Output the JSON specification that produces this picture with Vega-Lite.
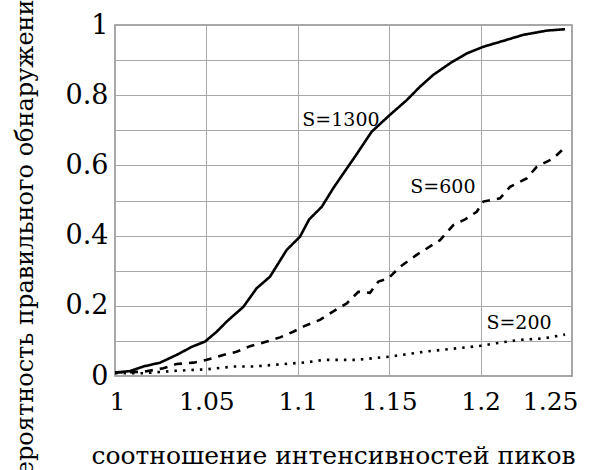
{
  "$schema": "https://vega.github.io/schema/vega-lite/v6.json",
  "width": 457,
  "height": 351,
  "autosize": {"type": "none"},
  "padding": {"left": 115, "top": 25, "right": 22, "bottom": 94},
  "background": "white",
  "config": {
    "font": "DejaVu Serif",
    "view": {"stroke": "#8a8a8a", "strokeWidth": 1.5},
    "axis": {
      "labelFont": "DejaVu Serif",
      "titleFont": "DejaVu Serif",
      "labelColor": "black",
      "titleColor": "black",
      "titleFontWeight": "normal",
      "gridColor": "#a8a8a8",
      "gridWidth": 1,
      "domain": false,
      "ticks": false,
      "labelOverlap": false
    },
    "text": {"font": "DejaVu Serif"}
  },
  "datasets": {
    "curves": [
      {"x": 1.0, "p": 0.01, "S": "S=1300"},
      {"x": 1.0082, "p": 0.014, "S": "S=1300"},
      {"x": 1.0155, "p": 0.027, "S": "S=1300"},
      {"x": 1.0246, "p": 0.038, "S": "S=1300"},
      {"x": 1.0337, "p": 0.06, "S": "S=1300"},
      {"x": 1.042, "p": 0.083, "S": "S=1300"},
      {"x": 1.0492, "p": 0.098, "S": "S=1300"},
      {"x": 1.0556, "p": 0.126, "S": "S=1300"},
      {"x": 1.0611, "p": 0.155, "S": "S=1300"},
      {"x": 1.0702, "p": 0.197, "S": "S=1300"},
      {"x": 1.0775, "p": 0.25, "S": "S=1300"},
      {"x": 1.0848, "p": 0.283, "S": "S=1300"},
      {"x": 1.0939, "p": 0.359, "S": "S=1300"},
      {"x": 1.1012, "p": 0.397, "S": "S=1300"},
      {"x": 1.1062, "p": 0.446, "S": "S=1300"},
      {"x": 1.1131, "p": 0.482, "S": "S=1300"},
      {"x": 1.1194, "p": 0.535, "S": "S=1300"},
      {"x": 1.1249, "p": 0.577, "S": "S=1300"},
      {"x": 1.1313, "p": 0.625, "S": "S=1300"},
      {"x": 1.1404, "p": 0.696, "S": "S=1300"},
      {"x": 1.1504, "p": 0.744, "S": "S=1300"},
      {"x": 1.1596, "p": 0.786, "S": "S=1300"},
      {"x": 1.1668, "p": 0.824, "S": "S=1300"},
      {"x": 1.1741, "p": 0.858, "S": "S=1300"},
      {"x": 1.1833, "p": 0.891, "S": "S=1300"},
      {"x": 1.1924, "p": 0.919, "S": "S=1300"},
      {"x": 1.2015, "p": 0.938, "S": "S=1300"},
      {"x": 1.2106, "p": 0.952, "S": "S=1300"},
      {"x": 1.2234, "p": 0.972, "S": "S=1300"},
      {"x": 1.2362, "p": 0.984, "S": "S=1300"},
      {"x": 1.2462, "p": 0.988, "S": "S=1300"},

      {"x": 1.0, "p": 0.01, "S": "S=600"},
      {"x": 1.0155, "p": 0.012, "S": "S=600"},
      {"x": 1.0264, "p": 0.022, "S": "S=600"},
      {"x": 1.0337, "p": 0.034, "S": "S=600"},
      {"x": 1.0428, "p": 0.038, "S": "S=600"},
      {"x": 1.0502, "p": 0.046, "S": "S=600"},
      {"x": 1.0592, "p": 0.06, "S": "S=600"},
      {"x": 1.0665, "p": 0.069, "S": "S=600"},
      {"x": 1.0739, "p": 0.085, "S": "S=600"},
      {"x": 1.083, "p": 0.098, "S": "S=600"},
      {"x": 1.0903, "p": 0.11, "S": "S=600"},
      {"x": 1.0975, "p": 0.126, "S": "S=600"},
      {"x": 1.1035, "p": 0.142, "S": "S=600"},
      {"x": 1.1121, "p": 0.16, "S": "S=600"},
      {"x": 1.1213, "p": 0.19, "S": "S=600"},
      {"x": 1.1268, "p": 0.207, "S": "S=600"},
      {"x": 1.1331, "p": 0.24, "S": "S=600"},
      {"x": 1.1395, "p": 0.237, "S": "S=600"},
      {"x": 1.1441, "p": 0.269, "S": "S=600"},
      {"x": 1.1495, "p": 0.278, "S": "S=600"},
      {"x": 1.1559, "p": 0.311, "S": "S=600"},
      {"x": 1.165, "p": 0.345, "S": "S=600"},
      {"x": 1.1778, "p": 0.387, "S": "S=600"},
      {"x": 1.1851, "p": 0.43, "S": "S=600"},
      {"x": 1.1915, "p": 0.446, "S": "S=600"},
      {"x": 1.1979, "p": 0.468, "S": "S=600"},
      {"x": 1.2015, "p": 0.497, "S": "S=600"},
      {"x": 1.2106, "p": 0.506, "S": "S=600"},
      {"x": 1.2161, "p": 0.539, "S": "S=600"},
      {"x": 1.2252, "p": 0.563, "S": "S=600"},
      {"x": 1.2307, "p": 0.596, "S": "S=600"},
      {"x": 1.2398, "p": 0.62, "S": "S=600"},
      {"x": 1.2462, "p": 0.652, "S": "S=600"},

      {"x": 1.0, "p": 0.008, "S": "S=200"},
      {"x": 1.0155, "p": 0.008, "S": "S=200"},
      {"x": 1.0337, "p": 0.015, "S": "S=200"},
      {"x": 1.05, "p": 0.019, "S": "S=200"},
      {"x": 1.0647, "p": 0.027, "S": "S=200"},
      {"x": 1.0757, "p": 0.027, "S": "S=200"},
      {"x": 1.092, "p": 0.034, "S": "S=200"},
      {"x": 1.105, "p": 0.039, "S": "S=200"},
      {"x": 1.114, "p": 0.046, "S": "S=200"},
      {"x": 1.132, "p": 0.046, "S": "S=200"},
      {"x": 1.15, "p": 0.055, "S": "S=200"},
      {"x": 1.169, "p": 0.069, "S": "S=200"},
      {"x": 1.187, "p": 0.079, "S": "S=200"},
      {"x": 1.2, "p": 0.086, "S": "S=200"},
      {"x": 1.2106, "p": 0.095, "S": "S=200"},
      {"x": 1.2216, "p": 0.103, "S": "S=200"},
      {"x": 1.2343, "p": 0.107, "S": "S=200"},
      {"x": 1.2462, "p": 0.118, "S": "S=200"}
    ],
    "labels": [
      {"x": 1.1236, "p": 0.729, "S": "S=1300"},
      {"x": 1.1794, "p": 0.538, "S": "S=600"},
      {"x": 1.221, "p": 0.151, "S": "S=200"}
    ]
  },
  "encoding": {
    "x": {
      "field": "x",
      "type": "quantitative",
      "scale": {"domain": [1, 1.25], "nice": false, "zero": false},
      "axis": {
        "title": "соотношение интенсивностей пиков",
        "values": [1, 1.05, 1.1, 1.15, 1.2, 1.25],
        "format": ".2~f",
        "labelFontSize": 25,
        "labelPadding": 13,
        "labelFlush": true,
        "labelFlushOffset": 6,
        "titleFontSize": 25,
        "titleX": 218,
        "titleY": 87,
        "titleAlign": "center",
        "titleBaseline": "alphabetic"
      }
    },
    "y": {
      "field": "p",
      "type": "quantitative",
      "scale": {"domain": [0, 1], "nice": false},
      "axis": {
        "title": "вероятность правильного обнаружения",
        "values": [0, 0.1, 0.2, 0.3, 0.4, 0.5, 0.6, 0.7, 0.8, 0.9, 1],
        "format": ".1~f",
        "labelExpr": "round(datum.value * 10) % 2 == 0 ? datum.label : ''",
        "labelFontSize": 27,
        "labelPadding": 7,
        "titleFontSize": 24,
        "titleAngle": -90,
        "titleX": -83,
        "titleY": 211,
        "titleAlign": "center",
        "titleBaseline": "alphabetic"
      }
    }
  },
  "layer": [
    {
      "data": {"name": "curves"},
      "mark": {"type": "line", "color": "black", "strokeWidth": 2.6},
      "encoding": {
        "detail": {"field": "S", "type": "nominal"},
        "strokeDash": {
          "field": "S",
          "type": "nominal",
          "scale": {"domain": ["S=1300", "S=600", "S=200"], "range": [[1, 0], [8, 7], [2.5, 6]]},
          "legend": null
        }
      }
    },
    {
      "data": {"name": "labels"},
      "mark": {"type": "text", "font": "DejaVu Serif", "fontSize": 19, "color": "black", "align": "center", "baseline": "middle"},
      "encoding": {
        "text": {"field": "S", "type": "nominal"}
      }
    }
  ]
}
